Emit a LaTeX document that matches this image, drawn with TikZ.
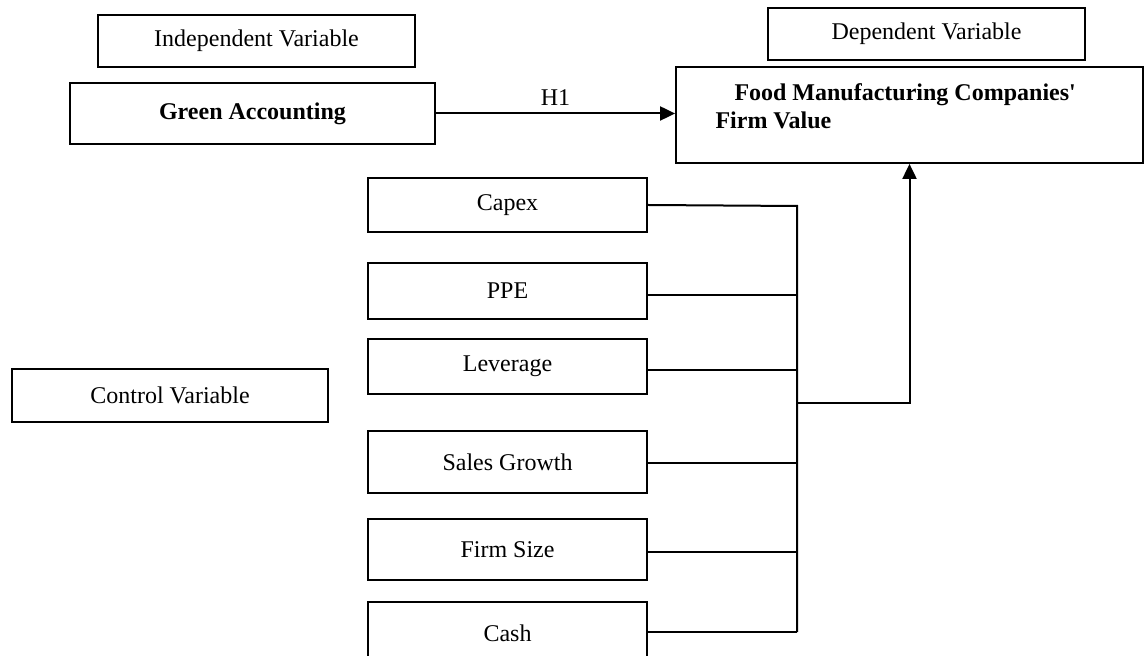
\documentclass[tikz,border=0pt]{standalone}
\usepackage{fontspec}
\setmainfont{Liberation Serif}
\usetikzlibrary{positioning,arrows.meta,calc}

\begin{document}
\begin{tikzpicture}[
		x=0.5pt, y=-0.5pt,
		font=\fontsize{12}{13.5}\selectfont,
		box/.style={draw, line width=0.9pt, align=center, inner sep=2pt},
		head/.style={box, minimum width=158.5pt, minimum height=26pt},
		ctrl/.style={box, minimum width=139.5pt},
		wire/.style={line width=1pt},
		arr/.style={-{Triangle[length=7.5pt, width=7pt]}, line width=1pt}
		]
		\clip (0,0) rectangle (1144,656);
		\node[head] (indep) at (256.5,41) {Independent Variable};
		\node[box, minimum width=182.5pt, minimum height=30.5pt] (green) at (252.5,113.5)
		{\textbf{Green Accounting}};
		\node[head] (dep) at (926.5,34) {Dependent Variable};
		\node[box, minimum width=233.5pt, minimum height=48pt] (food) at (909.5,115) {};
		\node[anchor=north west, align=left, inner sep=0pt, font=\fontsize{12}{14}\selectfont\bfseries]
		(foodtxt) at ($(food.north west)+(40,17)$)
		{\hspace*{9.5pt}Food Manufacturing Companies\textquotesingle\\Firm Value};
		\node[box, minimum width=158pt, minimum height=26.5pt] (control) at (170,395.5)
		{Control Variable};
		\node[ctrl, minimum height=27pt] (capex) at (507.5,205) {Capex};
		\node[ctrl, minimum height=28pt] (ppe) at (507.5,291) {PPE};
		\node[ctrl, minimum height=27.5pt] (lev) at (507.5,366.5) {Leverage};
		\node[ctrl, minimum height=31pt] (sales) at (507.5,462) {Sales Growth};
		\node[ctrl, minimum height=30.5pt] (size) at (507.5,549.5) {Firm Size};
		\node[ctrl, minimum height=31pt] (cash) at (507.5,633) {Cash};
		\coordinate (bustop) at (797,206);
		\coordinate (busend) at (797,632);
		\coordinate (join) at (797,403);
		\draw[arr] (green.east) -- (green.east -| food.west)
		node[midway, above] {H1};
		\draw[wire] (capex.east) -- (bustop) -- (busend);
		\draw[wire] ([yshift=-2pt]ppe.east) -- ([yshift=-2pt]ppe.east -| bustop);
		\draw[wire] ([yshift=-1.75pt]lev.east) -- ([yshift=-1.75pt]lev.east -| bustop);
		\draw[wire] ([yshift=-0.5pt]sales.east) -- ([yshift=-0.5pt]sales.east -| bustop);
		\draw[wire] ([yshift=-1.25pt]size.east) -- ([yshift=-1.25pt]size.east -| bustop);
		\draw[wire] (cash.east |- busend) -- (busend);
		\draw[arr] (join) -| (food.south);
	\end{tikzpicture}
\end{document}
